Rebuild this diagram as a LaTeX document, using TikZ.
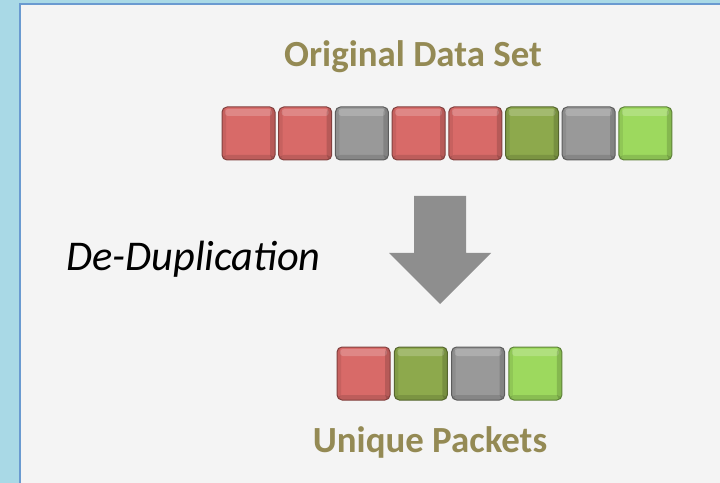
\documentclass[tikz,border=0pt]{standalone}
\usepackage{fontspec}
\setmainfont{Carlito}
\usetikzlibrary{positioning}

\definecolor{bgblue}{HTML}{A9D9E6}
\definecolor{panelgray}{HTML}{F4F4F4}
\definecolor{rimblue}{HTML}{6A9AD0}
\definecolor{titleolive}{HTML}{948A54}
\definecolor{pktred}{HTML}{D86A68}
\definecolor{pktgray}{HTML}{999999}
\definecolor{pktolive}{HTML}{8DA94C}
\definecolor{pktlime}{HTML}{9DD95E}
\definecolor{arrowgray}{HTML}{8E8E8E}

\tikzset{
  pkt/.style={minimum width=53bp, minimum height=53bp, inner sep=0pt,
    rounded corners=5bp, fill=#1, draw=#1!60!black, line width=1bp,
    path picture={
      \fill[white, opacity=0.2, rounded corners=3bp]
        ([xshift=3bp, yshift=-2bp]path picture bounding box.north west)
        rectangle ([xshift=-3bp, yshift=-9bp]path picture bounding box.north east);
      \fill[black, opacity=0.15]
        ([xshift=-5bp]path picture bounding box.north east)
        rectangle (path picture bounding box.south east);
      \fill[black, opacity=0.12]
        ([yshift=5bp]path picture bounding box.south west)
        rectangle (path picture bounding box.south east);
      \fill[black, opacity=0.08]
        (path picture bounding box.north west)
        rectangle ([xshift=4bp]path picture bounding box.south west);
    }},
  heading/.style={text=titleolive, font=\bfseries\fontsize{37}{42}\selectfont, inner sep=0pt},
  stepname/.style={font=\itshape\fontsize{42.5}{48}\selectfont, inner sep=0pt}
}

\begin{document}
\begin{tikzpicture}[x=1bp, y=-1bp]
    \useasboundingbox (0, 0) rectangle (720, 483);

    % slide background and content panel
    \fill[bgblue] (0, 0) rectangle (720, 483);
    \fill[panelgray] (20, 4) rectangle (720, 483);
    \draw[rimblue, line width=2bp] (20, 483) -- (20, 4) -- (720, 4);

    \def\toppitch{56.7}
    \def\botpitch{57.3}

    \node[heading, anchor=base] (origtitle) at (413, 67) {Original Data Set};

    % original packets
    \foreach \i/\c in {1/pktred, 2/pktred, 3/pktgray, 4/pktred, 5/pktred, 6/pktolive, 7/pktgray, 8/pktlime}
      \node[pkt=\c] (o\i) at ({248.5 + (\i-1)*\toppitch}, 133.5) {};

    % block arrow
    \fill[arrowgray] (414, 196) -- (466, 196) -- (466, 253) -- (491, 253)
      -- (440, 304) -- (389, 253) -- (414, 253) -- cycle;

    \node[stepname, anchor=base west] (dedup) at (66, 271) {De-Duplication};

    % unique packets
    \foreach \i/\c in {1/pktred, 2/pktolive, 3/pktgray, 4/pktlime}
      \node[pkt=\c] (u\i) at ({363.5 + (\i-1)*\botpitch}, 373.5) {};

    \node[heading, anchor=base] (uniqtitle) at (430, 452) {Unique Packets};
\end{tikzpicture}
\end{document}
